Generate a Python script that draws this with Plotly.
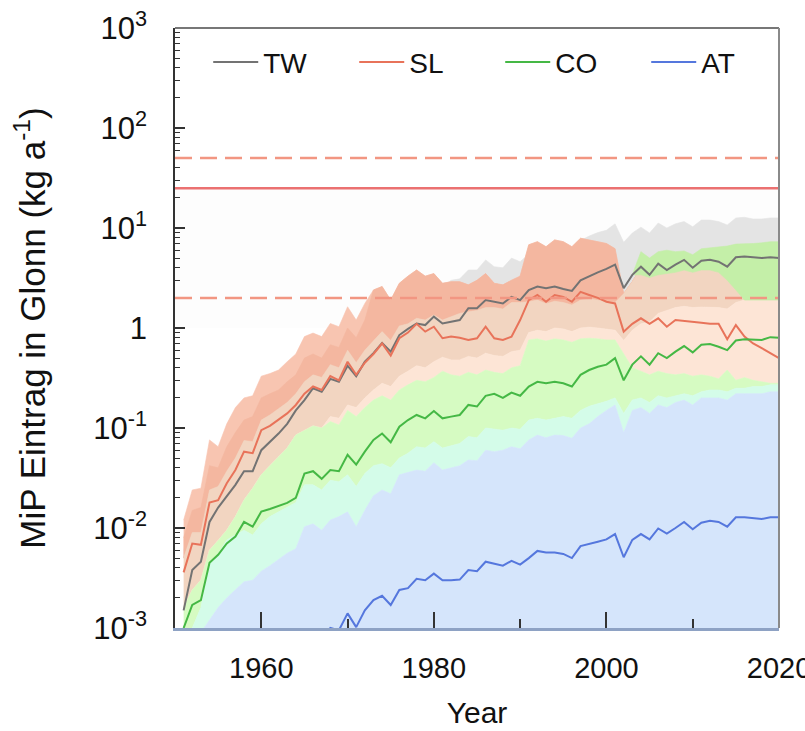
import plotly.graph_objects as go

# ---------------- data ----------------
years = list(range(1951, 2021))

TW = [0.0015, 0.0038, 0.0046, 0.0115, 0.016, 0.021, 0.027, 0.037, 0.037, 0.060,
      0.072, 0.088, 0.11, 0.15, 0.19, 0.25, 0.23, 0.31, 0.29, 0.42,
      0.33, 0.46, 0.56, 0.71, 0.58, 0.85, 0.98, 1.11, 1.07, 1.30,
      1.11, 1.16, 1.20, 1.58, 1.58, 1.90, 1.83, 1.76, 2.05, 1.90,
      2.40, 2.60, 2.50, 2.60, 2.45, 2.35, 3.00, 3.30, 3.60, 3.90,
      4.30, 2.50, 3.40, 4.10, 3.40, 4.40, 3.80, 4.30, 4.80, 4.00,
      4.70, 4.80, 4.60, 4.10, 5.10, 5.20, 5.10, 5.00, 5.10, 5.00]

SL = [0.0036, 0.0070, 0.0068, 0.018, 0.019, 0.028, 0.038, 0.058, 0.056, 0.095,
      0.105, 0.12, 0.14, 0.17, 0.22, 0.26, 0.24, 0.33, 0.30, 0.46,
      0.34, 0.45, 0.55, 0.70, 0.53, 0.79, 0.90, 1.10, 0.92, 1.03,
      0.79, 0.82, 0.80, 0.76, 0.79, 1.03, 0.79, 0.76, 0.82, 1.20,
      1.90, 2.14, 1.83, 2.14, 2.05, 1.83, 2.30, 2.14, 2.00, 1.83,
      1.76, 0.92, 1.10, 1.25, 1.10, 1.25, 1.03, 1.20, 1.18, 1.16,
      1.13, 1.10, 1.10, 0.77, 1.07, 0.82, 0.70, 0.63, 0.56, 0.50]

CO = [0.0010, 0.0017, 0.0019, 0.0045, 0.0054, 0.0070, 0.0082, 0.0115, 0.0103, 0.0146,
      0.0155, 0.0165, 0.0178, 0.020, 0.035, 0.037, 0.031, 0.038, 0.037, 0.054,
      0.043, 0.058, 0.076, 0.088, 0.072, 0.103, 0.120, 0.135, 0.125, 0.148,
      0.125, 0.130, 0.135, 0.170, 0.164, 0.210, 0.220, 0.200, 0.226, 0.210,
      0.26, 0.29, 0.28, 0.29, 0.28, 0.26, 0.34, 0.38, 0.41, 0.43,
      0.50, 0.30, 0.43, 0.52, 0.43, 0.56, 0.50, 0.58, 0.66, 0.57,
      0.68, 0.69, 0.65, 0.60, 0.75, 0.77, 0.77, 0.76, 0.81, 0.80]

AT = [0.00002, 0.00004, 0.00005, 0.00011, 0.00013, 0.00018, 0.00022, 0.00030, 0.00028, 0.00040,
      0.00043, 0.00046, 0.00050, 0.00056, 0.00080, 0.00085, 0.00075, 0.00100, 0.00095, 0.00140,
      0.00102, 0.0015, 0.0019, 0.0021, 0.0017, 0.0024, 0.0025, 0.0031, 0.0030, 0.0035,
      0.0030, 0.0030, 0.00305, 0.0038, 0.0037, 0.0046, 0.0044, 0.0042, 0.0047, 0.0043,
      0.0050, 0.0059, 0.0057, 0.0057, 0.0055, 0.0050, 0.0066, 0.0069, 0.0073, 0.0077,
      0.0087, 0.0051, 0.0076, 0.0087, 0.0077, 0.0099, 0.0088, 0.0100, 0.0115, 0.0097,
      0.0113, 0.0118, 0.0115, 0.0103, 0.0128, 0.0128, 0.0125, 0.0123, 0.0128, 0.0128]

# uncertainty band boundaries
TW_BAND_HI = [0.006, 0.012, 0.014, 0.035, 0.040, 0.060, 0.080, 0.110, 0.110, 0.180,
              0.21, 0.25, 0.30, 0.40, 0.50, 0.60, 0.55, 0.75, 0.70, 1.00,
              0.85, 1.10, 1.40, 1.70, 1.40, 2.00, 2.30, 2.60, 2.50, 2.90,
              2.60, 3.00, 3.10, 3.80, 3.80, 4.80, 4.10, 4.00, 5.00, 4.60,
              5.5, 6.0, 5.8, 6.0, 5.8, 5.6, 7.5, 8.3, 9.0, 9.5,
              11.0, 7.2, 8.9, 10.2, 8.9, 11.2, 10.0, 11.0, 11.6, 10.3,
              12.0, 12.0, 11.6, 10.7, 12.6, 12.8, 12.3, 12.3, 12.6, 12.6]

SL_OUTER_HI = [0.012, 0.024, 0.025, 0.076, 0.065, 0.11, 0.16, 0.20, 0.21, 0.33,
               0.35, 0.38, 0.46, 0.55, 0.82, 0.89, 0.82, 1.11, 1.03, 1.63,
               1.20, 1.76, 2.40, 2.60, 1.90, 2.80, 3.30, 3.80, 3.30, 3.50,
               2.80, 2.90, 2.90, 2.70, 3.00, 3.50, 2.80, 2.70, 3.00, 3.30,
               6.8, 7.3, 6.5, 7.6, 7.3, 6.5, 7.9, 7.6, 7.3, 7.0,
               6.2, 2.2, 2.9, 4.0, 3.8, 4.3, 4.0, 4.3, 4.6, 4.2,
               4.6, 4.7, 4.6, 4.2, 2.6, 2.2, 2.0, 2.0, 2.0, 2.0]

SL_INNER_HI = [0.008, 0.015, 0.016, 0.042, 0.040, 0.065, 0.09, 0.12, 0.13, 0.20,
               0.22, 0.24, 0.29, 0.34, 0.50, 0.55, 0.50, 0.68, 0.64, 1.00,
               0.80, 1.20, 2.40, 2.60, 1.90, 2.80, 3.30, 3.80, 3.30, 3.50,
               2.80, 2.90, 2.90, 2.70, 3.00, 3.50, 2.80, 2.70, 3.00, 3.30,
               6.8, 7.3, 6.5, 7.6, 7.3, 6.5, 7.9, 7.6, 7.3, 7.0,
               6.2, 2.2, 2.9, 4.0, 3.8, 4.3, 4.0, 4.3, 4.6, 4.2,
               4.6, 4.7, 4.6, 4.2, 2.6, 2.2, 2.0, 2.0, 2.0, 2.0]

TAN_HI = [0.0050, 0.0090, 0.0090, 0.024, 0.026, 0.037, 0.050, 0.075, 0.073, 0.120,
          0.135, 0.155, 0.18, 0.22, 0.29, 0.34, 0.32, 0.43, 0.40, 0.60,
          0.45, 0.60, 0.75, 0.92, 0.75, 1.05, 1.10, 1.25, 1.20, 1.35,
          1.20, 1.30, 1.40, 1.45, 1.50, 1.60, 1.60, 1.55, 1.80, 1.80,
          1.83, 1.90, 1.75, 1.85, 1.80, 1.70, 1.90, 1.95, 1.90, 1.85,
          1.80, 2.20, 2.90, 4.00, 3.80, 4.30, 4.00, 4.30, 4.60, 4.20,
          4.60, 4.70, 4.60, 4.20, 2.60, 2.20, 2.00, 2.00, 2.00, 2.00]

PEACH_HI = [0.0016, 0.0024, 0.0030, 0.0060, 0.0075, 0.0095, 0.013, 0.019, 0.025, 0.034,
            0.042, 0.052, 0.063, 0.085, 0.095, 0.105, 0.100, 0.130, 0.125, 0.170,
            0.16, 0.20, 0.24, 0.28, 0.26, 0.33, 0.37, 0.42, 0.40, 0.46,
            0.51, 0.48, 0.48, 0.52, 0.50, 0.56, 0.53, 0.52, 0.58, 0.60,
            0.90, 0.95, 0.92, 1.00, 0.98, 0.92, 1.00, 1.02, 1.00, 0.98,
            0.95, 0.75, 0.95, 1.10, 1.15, 1.40, 1.50, 1.60, 1.65, 1.60,
            1.62, 1.60, 1.60, 1.55, 1.80, 1.90, 1.90, 1.90, 1.90, 1.90]

GREEN_HI = [0.0016, 0.0024, 0.0030, 0.0060, 0.0075, 0.0095, 0.013, 0.019, 0.025, 0.034,
            0.042, 0.052, 0.063, 0.085, 0.095, 0.105, 0.100, 0.116, 0.107, 0.150,
            0.13, 0.16, 0.19, 0.21, 0.19, 0.24, 0.27, 0.30, 0.29, 0.32,
            0.37, 0.34, 0.33, 0.36, 0.34, 0.38, 0.36, 0.35, 0.40, 0.42,
            0.76, 0.78, 0.74, 0.78, 0.76, 0.72, 0.78, 0.79, 0.78, 0.76,
            0.76, 0.55, 0.40, 0.37, 0.34, 0.37, 0.35, 0.34, 0.35, 0.33,
            0.34, 0.33, 0.31, 0.38, 0.30, 0.32, 0.30, 0.29, 0.28, 0.28]

MINT_HI = [0.0007, 0.0010, 0.0016, 0.0045, 0.0055, 0.0076, 0.0085, 0.0095, 0.0085, 0.011,
           0.013, 0.0145, 0.016, 0.018, 0.027, 0.027, 0.024, 0.030, 0.029, 0.034,
           0.026, 0.035, 0.042, 0.044, 0.040, 0.050, 0.056, 0.065, 0.063, 0.073,
           0.063, 0.066, 0.070, 0.082, 0.080, 0.100, 0.097, 0.095, 0.100, 0.097,
           0.120, 0.125, 0.120, 0.125, 0.130, 0.125, 0.150, 0.165, 0.175, 0.185,
           0.200, 0.140, 0.190, 0.200, 0.180, 0.210, 0.200, 0.210, 0.220, 0.210,
           0.230, 0.240, 0.240, 0.230, 0.250, 0.250, 0.260, 0.260, 0.270, 0.270]

BLUE_HI = [0.0004, 0.0006, 0.0009, 0.0012, 0.0016, 0.0020, 0.0024, 0.0029, 0.0030, 0.0037,
           0.0042, 0.0048, 0.0056, 0.0062, 0.0103, 0.0110, 0.0095, 0.0120, 0.0130, 0.0145,
           0.0103, 0.015, 0.021, 0.024, 0.022, 0.034, 0.036, 0.038, 0.037, 0.045,
           0.038, 0.040, 0.042, 0.048, 0.047, 0.060, 0.058, 0.060, 0.065, 0.062,
           0.076, 0.085, 0.080, 0.085, 0.084, 0.079, 0.100, 0.110, 0.130, 0.150,
           0.170, 0.090, 0.150, 0.160, 0.140, 0.170, 0.160, 0.180, 0.190, 0.170,
           0.200, 0.200, 0.200, 0.190, 0.220, 0.220, 0.220, 0.220, 0.230, 0.230]

CO_TW_YEARS = list(range(2003, 2021))
CO_TW_HI = [3.4, 5.8, 5.0, 5.8, 6.0, 5.8, 5.9, 5.4, 6.2, 6.3, 6.5, 6.6, 6.9, 6.9, 7.0, 7.1, 7.3, 7.3]
CO_TW_LO = [3.4, 3.4, 3.2, 3.4, 3.5, 3.6, 3.8, 3.6, 3.8, 3.8, 3.6, 3.0, 2.4, 1.9, 1.9, 1.9, 1.9, 1.9]

REF_DASHED = [50, 2]
REF_SOLID = [25]

X_TICKS = [1960, 1980, 2000, 2020]
X_MINOR = [1970, 1990, 2010]
Y_TICKS = [1e-3, 1e-2, 1e-1, 1, 10, 100, 1000]
Y_TICKTEXT = ["10<sup>-3</sup>", "10<sup>-2</sup>", "10<sup>-1</sup>", "1",
              "10<sup>1</sup>", "10<sup>2</sup>", "10<sup>3</sup>"]

for arr in [TW, SL, CO, AT, TW_BAND_HI, SL_OUTER_HI, SL_INNER_HI, TAN_HI, PEACH_HI,
            GREEN_HI, MINT_HI, BLUE_HI]:
    assert len(arr) == len(years), len(arr)

# ---------------- figure ----------------
FONT = "Liberation Sans, Arial, sans-serif"

fig = go.Figure()


def band(x, lo, hi, color):
    fig.add_trace(go.Scatter(x=x, y=lo, mode="lines", line=dict(width=0.6, color=color),
                             hoverinfo="skip", showlegend=False))
    fig.add_trace(go.Scatter(x=x, y=hi, mode="lines", line=dict(width=0.6, color=color),
                             fill="tonexty", fillcolor=color, hoverinfo="skip",
                             showlegend=False))


band(years, TAN_HI, TW_BAND_HI, "#e4e4e4")
band(years, TAN_HI, SL_OUTER_HI, "#f8c5b1")
band(years, TAN_HI, SL_INNER_HI, "#f4b7a0")
band(years, PEACH_HI, TAN_HI, "#f2d5c1")
band(years, GREEN_HI, PEACH_HI, "#fde5d6")
band(years, MINT_HI, GREEN_HI, "#d6fbc2")
band(years, BLUE_HI, MINT_HI, "#d4fce9")
fig.add_trace(go.Scatter(x=years, y=BLUE_HI, mode="lines", line=dict(width=0.6, color="#d5e5fb"),
                         fill="tozeroy", fillcolor="#d5e5fb", hoverinfo="skip", showlegend=False))
band(CO_TW_YEARS, CO_TW_LO, CO_TW_HI, "#c4efa8")

LINE_COLORS = {"TW": "#737373", "SL": "#e8735a", "CO": "#45b845", "AT": "#5577dd"}
for name, vals in [("TW", TW), ("SL", SL), ("CO", CO), ("AT", AT)]:
    fig.add_trace(go.Scatter(x=years, y=vals, mode="lines", name=name,
                             line=dict(color=LINE_COLORS[name], width=2)))

# reference levels
for v in REF_DASHED:
    fig.add_hline(y=v, line=dict(color="#f29682", width=2.5, dash="17px,8px"), layer="above")
for v in REF_SOLID:
    fig.add_hline(y=v, line=dict(color="#eb7171", width=2.5), layer="above")

# faint tint and frame
fig.add_shape(type="rect", xref="paper", x0=0, x1=1, yref="y", y0=1, y1=25,
              fillcolor="#fdfdfd", line=dict(width=0), layer="below")
fig.add_shape(type="line", xref="paper", yref="paper", x0=0, x1=1, y0=1, y1=1,
              line=dict(color="#777777", width=2))
fig.add_shape(type="line", xref="paper", yref="paper", x0=1, x1=1, y0=0, y1=1,
              line=dict(color="#8a8a8a", width=2))

fig.update_layout(
    width=805, height=731,
    margin=dict(l=175, r=26, t=28, b=103, autoexpand=False),
    plot_bgcolor="white", paper_bgcolor="white",
    font=dict(family=FONT, size=29, color="#111111"),
    legend=dict(orientation="h", x=0.055, xanchor="left", y=0.943, yanchor="middle",
                bgcolor="rgba(0,0,0,0)", font=dict(family=FONT, size=28),
                traceorder="normal", itemwidth=45, entrywidth=86),
    showlegend=True,
)

fig.update_xaxes(range=[1950, 2020], tickmode="array", tickvals=X_TICKS,
                 ticks="inside", ticklen=16, tickwidth=1.5, tickcolor="#333333",
                 minor=dict(tickmode="array", tickvals=X_MINOR, ticks="inside",
                            ticklen=9, tickwidth=1.5, tickcolor="#333333", showgrid=False),
                 showline=True, linecolor="#8ea2c4", linewidth=3,
                 showgrid=False, zeroline=False, ticklabeloverflow="allow",
                 tickfont=dict(family=FONT, size=29), ticklabelstandoff=12,
                 title=dict(text="Year", font=dict(family=FONT, size=30), standoff=20))

Y_MINOR = [m * 10.0 ** e for e in range(-3, 3) for m in range(2, 10)]
fig.update_yaxes(type="log", range=[-3, 3], tickmode="array", tickvals=Y_TICKS,
                 ticktext=Y_TICKTEXT, ticks="inside", ticklen=10, tickwidth=1.5,
                 tickcolor="#333333",
                 minor=dict(tickmode="array", tickvals=Y_MINOR, ticks="inside", ticklen=5,
                            tickwidth=1, tickcolor="#333333", showgrid=False),
                 showline=True, linecolor="#333333", linewidth=1.5,
                 showgrid=False, zeroline=False,
                 tickfont=dict(family=FONT, size=31), ticklabelstandoff=20,
                 title=dict(text="MiP Eintrag in Glonn (kg a<sup>-1</sup>)",
                            font=dict(family=FONT, size=35), standoff=37))

fig.write_html("out.html")
